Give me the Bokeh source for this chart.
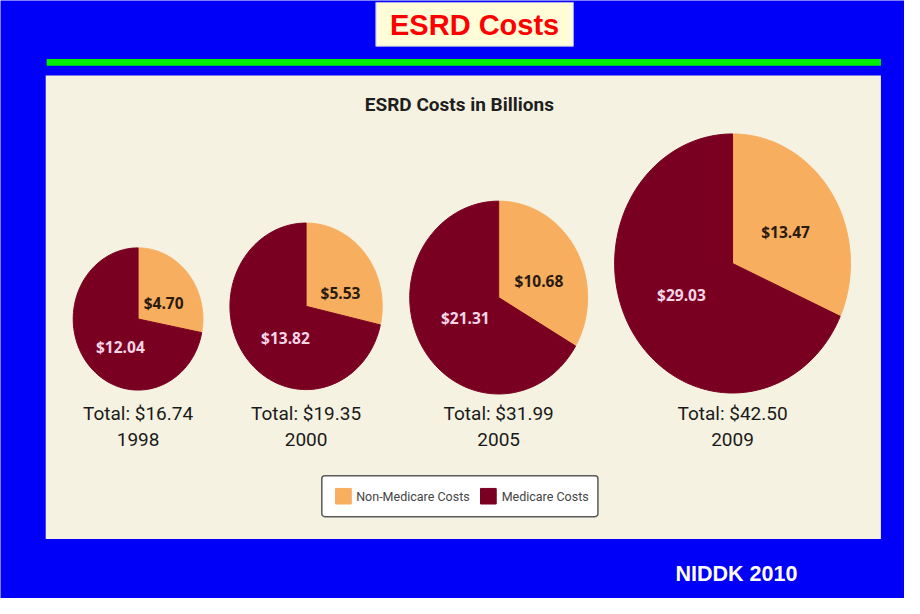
import numpy as np
from bokeh.plotting import figure
from bokeh.models import Range1d, BoxAnnotation
from bokeh.core.properties import value
from bokeh.embed import file_html
from bokeh.resources import INLINE

# ---------------- data ----------------
years = ["1998", "2000", "2005", "2009"]
non_medicare = [4.70, 5.53, 10.68, 13.47]
medicare = [12.04, 13.82, 21.31, 29.03]
totals = [16.74, 19.35, 31.99, 42.50]
series_names = ["Non-Medicare Costs", "Medicare Costs"]
chart_title = "ESRD Costs in Billions"
slide_title = "ESRD Costs"
source_note = "NIDDK 2010"

# ---------------- layout (positions in the 920x614 picture) ----------------
pie_cx = [140, 311, 507, 745]
pie_cy = [327, 314, 305, 270]
pie_rx = [66, 77.5, 90.5, 120]
pie_ry = [73, 85.5, 99, 133]
nm_label_xy = [(166, 311), (346, 300), (548, 288), (799, 238)]
m_label_xy = [(122, 356), (290, 347), (473, 326), (693, 302)]

BLUE = "#0000F8"
GREEN = "#00F000"
PANEL = "#F6F2E1"
ORANGE = "#F7AE5F"
DARKRED = "#7A0022"

p = figure(width=904, height=598, x_range=Range1d(0, 920), y_range=Range1d(614, 0),
           output_backend="svg", toolbar_location=None,
           x_axis_location=None, y_axis_location=None,
           background_fill_color=BLUE, border_fill_color=BLUE,
           min_border=0, outline_line_color=None)
p.grid.visible = False

# slide title box
p.add_layout(BoxAnnotation(left=382, right=583, top=2, bottom=47,
                           fill_color="#FFFDD8", fill_alpha=1,
                           line_color="#B0B0F0", line_alpha=1, line_width=1, level="underlay"))
# green rule
p.add_layout(BoxAnnotation(left=47, right=896, top=60, bottom=67,
                           fill_color=GREEN, fill_alpha=1, line_color=None, level="underlay"))
# beige panel
p.add_layout(BoxAnnotation(left=46, right=896, top=77, bottom=553,
                           fill_color=PANEL, fill_alpha=1, line_color=None, level="underlay"))
# legend box
p.add_layout(BoxAnnotation(left=327, right=608, top=488, bottom=530,
                           fill_color="#FFFFFF", fill_alpha=1, line_color="#5A5A5A",
                           line_alpha=1, line_width=1.5, border_radius=3, level="underlay"))

# ---------------- pies (ellipse slices built from the values) ----------------
xs, ys, colors = [], [], []
for i in range(len(years)):
    frac = non_medicare[i] / (non_medicare[i] + medicare[i])
    bounds = [(0.0, 2 * np.pi * frac, ORANGE), (2 * np.pi * frac, 2 * np.pi, DARKRED)]
    for a0, a1, col in bounds:
        t = np.linspace(a0, a1, 120)
        px = np.concatenate([[pie_cx[i]], pie_cx[i] + pie_rx[i] * np.sin(t)])
        py = np.concatenate([[pie_cy[i]], pie_cy[i] - pie_ry[i] * np.cos(t)])
        xs.append(px.tolist())
        ys.append(py.tolist())
        colors.append(col)
p.patches(xs, ys, fill_color=colors, line_color=colors, line_width=1)

# slice labels
p.text(x=[xy[0] for xy in nm_label_xy], y=[xy[1] for xy in nm_label_xy],
       text=[f"${v:.2f}" for v in non_medicare],
       text_font=value("Open Sans"), text_font_style="bold", text_font_size="15.5px",
       text_color="#2A1A10", text_align="center", text_baseline="middle")
p.text(x=[xy[0] for xy in m_label_xy], y=[xy[1] for xy in m_label_xy],
       text=[f"${v:.2f}" for v in medicare],
       text_font=value("Open Sans"), text_font_style="bold", text_font_size="15.5px",
       text_color="#F6D6E6", text_align="center", text_baseline="middle")

# totals and years
p.text(x=pie_cx, y=[424] * 4, text=[f"Total: ${v:.2f}" for v in totals],
       text_font=value("Roboto"), text_font_size="19px",
       text_color="#1A1A1A", text_align="center", text_baseline="middle")
p.text(x=pie_cx, y=[451] * 4, text=years,
       text_font=value("Roboto"), text_font_size="19px",
       text_color="#1A1A1A", text_align="center", text_baseline="middle")

# chart title
p.text(x=[467], y=[107], text=[chart_title],
       text_font=value("Roboto"), text_font_style="bold",
       text_font_size="19px", text_color="#1E1E1E",
       text_align="center", text_baseline="middle")

# legend
p.rect(x=[349, 496.5], y=[509, 509], width=16, height=16,
       fill_color=[ORANGE, DARKRED], line_color=[ORANGE, DARKRED])
p.text(x=[362, 510], y=[509, 509], text=series_names,
       text_font=value("Roboto"), text_font_size="12.5px",
       text_color="#444444", text_align="left", text_baseline="middle")

# slide title and source note
p.text(x=[482.5], y=[25], text=[slide_title],
       text_font=value("Liberation Sans"), text_font_style="bold",
       text_font_size="29px", text_color="#FF0000",
       text_align="center", text_baseline="middle")
p.text(x=[749], y=[589], text=[source_note],
       text_font=value("Liberation Sans"), text_font_style="bold",
       text_font_size="21.5px", text_color="#FFFFFF",
       text_align="center", text_baseline="middle")

open("out.html", "w").write(file_html(p, INLINE))
